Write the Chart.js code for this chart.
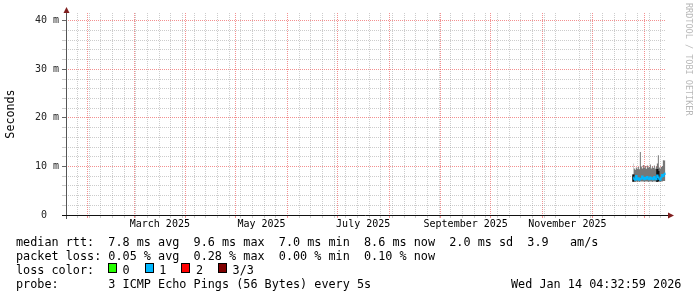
<!DOCTYPE html>
<html><head><meta charset="utf-8">
<script src="https://cdn.jsdelivr.net/npm/chart.js@4.4.1/dist/chart.umd.min.js"></script>
<style>
html,body{margin:0;padding:0;background:#fff;}
#wrap{position:relative;width:697px;height:297px;overflow:hidden;background:#fff;}
canvas{position:absolute;left:0;top:0;}
.t{position:absolute;font-family:"DejaVu Sans Mono",monospace;font-size:11.8px;line-height:14px;white-space:pre;color:#000;}
.box{position:absolute;width:7px;height:8px;border:1px solid #000;}
.wm{position:absolute;left:684px;top:3px;font-family:"DejaVu Sans Mono",monospace;font-size:8.5px;line-height:9px;color:#b8b8b8;writing-mode:vertical-rl;white-space:pre;}
</style></head>
<body><div id="wrap"><canvas id="c" width="697" height="297"></canvas>
<div class="wm">RRDTOOL / TOBI OETIKER</div>
<div id="foot"></div>
</div>
<script>
// sample times: days since 2025-01-01 00:00 UTC
const sampleDays = [358.6, 359.2, 359.8, 360.4, 361.0, 361.6, 362.2, 362.8, 363.4, 364.0, 364.6,
  365.2, 365.8, 366.4, 367.0, 367.6, 368.2, 368.8, 369.4, 370.0, 370.6, 371.2, 371.8, 372.4,
  373.0, 373.6, 374.2, 374.8, 375.4, 376.0, 376.6, 377.2, 377.8];
// smoke (min..max of pings), ms
const smokeMin = [7.0, 6.9, 6.8, 6.9, 6.8, 6.9, 6.8, 6.9, 6.9, 6.9, 6.9, 6.8, 6.9, 6.9, 6.9, 6.8,
  6.9, 6.9, 6.9, 6.8, 6.9, 6.9, 6.9, 6.8, 6.9, 7.0, 6.9, 6.8, 6.9, 6.9, 7.0, 7.0, 7.0];
const smokeMax = [10.6, 9.6, 9.3, 9.8, 9.5, 9.9, 9.4, 13.0, 10.0, 9.6, 10.3, 9.7, 10.1, 9.5, 10.2, 9.8,
  9.9, 10.4, 9.6, 10.0, 9.7, 10.2, 9.5, 10.0, 10.6, 12.3, 9.8, 9.6, 9.9, 10.1, 11.3, 11.2, 11.3];
// median rtt, ms
const medianRtt = [7.8, 7.4, 7.2, 8.1, 7.3, 7.6, 7.2, 7.5, 7.4, 8.0, 7.6, 7.3, 7.7, 7.4, 7.9, 7.5,
  7.3, 7.8, 7.4, 7.6, 7.3, 7.9, 7.5, 7.3, 8.2, 7.8, 7.4, 7.2, 7.7, 8.3, 8.0, 8.4, 8.6];
// lost pings per sample (colour of the median line)
const lossCount = [1, 1, 1, 1, 1, 1, 1, 1, 1, 1, 1, 1, 1, 1, 1, 1, 1, 1, 1, 1, 1, 1, 1, 1, 1, 1, 1, 1, 1, 1, 1, 1, 1];
// dense dark smoke samples
const darkIdx = [0, 24, 25];
const darkLow = [6.9, 6.9, 7.0];
const darkHigh = [8.3, 9.4, 9.0];

const yTickValues = [0, 2, 4, 6, 8, 10, 12, 14, 16, 18, 20, 22, 24, 26, 28, 30, 32, 34, 36, 38, 40];
const monthLabels = ['March 2025', 'May 2025', 'July 2025', 'September 2025', 'November 2025'];
const lossLabels = ['0', '1', '2', '3/3'];
const lossColors = ['#26ff00', '#00b8ff', '#ff0000', '#800000'];
const rttStats = ['7.8', '9.6', '7.0', '8.6', '2.0', '3.9'];
const lossStats = ['0.05', '0.28', '0.00', '0.10'];
const probeText = '3 ICMP Echo Pings (56 Bytes) every 5s';
const stampText = 'Wed Jan 14 04:32:59 2026';

// time helpers
const DAY = 864e5, EPOCH = Date.UTC(2025, 0, 1);
const toDay = t => Math.round((t - EPOCH) / DAY * 1e6) / 1e6;
const rangeEnd = toDay(Date.UTC(2026, 0, 14, 4, 32, 59));
const rangeStart = rangeEnd - 360;
const monthNames = ['January','February','March','April','May','June','July','August','September','October','November','December'];

const tickKind = {};
for (let d = toDay(Date.UTC(2025, 0, 5)); d < rangeEnd; d += 7) if (d > rangeStart) tickKind[d] = {kind: 'week', text: ''};
for (let m = 0; m < 14; m++) { const d = toDay(Date.UTC(2025, m, 1)); if (d > rangeStart && d < rangeEnd) tickKind[d] = {kind: 'month', text: ''}; }
monthLabels.forEach(lbl => {
  const [name, yr] = lbl.split(' ');
  const m = monthNames.indexOf(name), y = +yr;
  const mid = (toDay(Date.UTC(y, m, 1)) + toDay(Date.UTC(y, m + 1, 1))) / 2;
  tickKind[mid] = {kind: 'label', text: lbl};
});
const xTicks = Object.keys(tickKind).map(Number).sort((a, b) => a - b)
  .map(v => ({value: v, kind: tickKind[v].kind, text: tickKind[v].text}));

const GRID = 'rgba(143,143,143,0.45)', MAJOR = 'rgba(235,70,70,0.6)', NONE = 'rgba(0,0,0,0)';
const xColor = c => { const k = c.tick ? c.tick.kind : null; return k === 'month' ? MAJOR : k === 'week' ? GRID : NONE; };

const axesPlugin = {
  id: 'rrdAxes',
  afterDraw(chart) {
    const {ctx, chartArea: a} = chart;
    ctx.save();
    ctx.lineWidth = 1;
    ctx.strokeStyle = '#555';
    ctx.beginPath(); ctx.moveTo(a.left + 0.5, a.bottom + 4); ctx.lineTo(a.left + 0.5, a.top - 3); ctx.stroke();
    ctx.strokeStyle = '#111';
    ctx.beginPath(); ctx.moveTo(a.left - 4, a.bottom + 0.5); ctx.lineTo(a.right + 3, a.bottom + 0.5); ctx.stroke();
    ctx.fillStyle = '#801f1f';
    ctx.beginPath(); ctx.moveTo(a.left + 0.5, a.top - 6); ctx.lineTo(a.left + 3.5, a.top); ctx.lineTo(a.left - 2.5, a.top); ctx.closePath(); ctx.fill();
    ctx.beginPath(); ctx.moveTo(a.right + 8, a.bottom + 0.5); ctx.lineTo(a.right + 2, a.bottom - 2.5); ctx.lineTo(a.right + 2, a.bottom + 3.5); ctx.closePath(); ctx.fill();
    ctx.restore();
  }
};

const pts = arr => sampleDays.map((d, i) => ({x: d, y: arr[i]}));

new Chart(document.getElementById('c'), {
  type: 'line',
  data: {
    datasets: [
      {label: 'min', data: pts(smokeMin), borderWidth: 0, pointRadius: 0, fill: false, stepped: 'middle', order: 3},
      {label: 'smoke', data: pts(smokeMax), borderWidth: 0, pointRadius: 0, fill: '-1', stepped: 'middle',
       backgroundColor: '#777777', order: 2},
      {type: 'bar', label: 'dense', data: darkIdx.map((k, j) => ({x: sampleDays[k], y: [darkLow[j], darkHigh[j]]})),
       backgroundColor: '#111111', barThickness: 1.6, grouped: false, order: 1},
      {label: 'median rtt', data: pts(medianRtt), borderWidth: 1.5, pointRadius: 0, stepped: 'middle', fill: false,
       borderColor: lossColors[1],
       segment: {borderColor: c => lossColors[lossCount[c.p0DataIndex]]}, order: 0}
    ]
  },
  options: {
    responsive: false, animation: false, devicePixelRatio: 1,
    layout: {padding: {left: 0, right: 31, top: 13, bottom: 62}},
    plugins: {legend: {display: false}, tooltip: {enabled: false}},
    scales: {
      x: {
        type: 'linear', min: rangeStart, max: rangeEnd, offset: false,
        afterBuildTicks: s => { s.ticks = xTicks.map(t => ({value: t.value, kind: t.kind, text: t.text})); },
        afterFit: s => { s.height = 20; },
        grid: {offset: false, color: xColor, tickColor: xColor, lineWidth: 1, tickLength: 3, drawTicks: true},
        border: {display: false, dash: [1, 1]},
        ticks: {
          autoSkip: false, maxRotation: 0, minRotation: 0, padding: 0, color: '#000',
          font: {family: 'DejaVu Sans Mono', size: 10},
          callback: (v, i) => xTicks[i] ? xTicks[i].text : ''
        }
      },
      y: {
        type: 'linear', min: 0, max: 41.6,
        afterBuildTicks: s => { s.ticks = yTickValues.map(v => ({value: v})); },
        afterFit: s => { s.width = 66; },
        grid: {
          offset: false,
          color: c => (c.tick && c.tick.value % 10 === 0 && c.tick.value > 0) ? MAJOR : GRID,
          tickColor: c => (c.tick && c.tick.value % 10 === 0) ? '#666' : GRID,
          lineWidth: 1, tickLength: 4
        },
        border: {display: false, dash: [1, 1]},
        title: {display: true, text: 'Seconds', color: '#000', padding: {top: 4, bottom: 0},
                font: {family: 'DejaVu Sans Mono', size: 11.7}},
        ticks: {
          autoSkip: false, padding: 3, color: '#222', font: {family: 'DejaVu Sans Mono', size: 10},
          callback: v => v % 10 !== 0 ? '' : (v === 0 ? '0  ' : v + ' m')
        }
      }
    }
  },
  plugins: [axesPlugin]
});

// footer legend (text)
const foot = document.getElementById('foot');
const addText = (txt, left, top) => { const d = document.createElement('div'); d.className = 't'; d.style.left = left + 'px'; d.style.top = top + 'px'; d.textContent = txt; foot.appendChild(d); };
addText(`median rtt:  ${rttStats[0]} ms avg  ${rttStats[1]} ms max  ${rttStats[2]} ms min  ${rttStats[3]} ms now  ${rttStats[4]} ms sd  ${rttStats[5]}   am/s`, 16, 235);
addText(`packet loss: ${lossStats[0]} % avg  ${lossStats[1]} % max  ${lossStats[2]} % min  ${lossStats[3]} % now`, 16, 249);
addText('loss color:', 16, 263);
lossLabels.forEach((l, k) => {
  const bx = 108 + k * 36.7;
  const b = document.createElement('div'); b.className = 'box';
  b.style.left = bx + 'px'; b.style.top = '263px'; b.style.background = lossColors[k];
  foot.appendChild(b);
  addText(l, bx + 14.5, 263);
});
addText('probe:       ' + probeText, 16, 277);
addText(stampText, 511, 277);
</script>
</body></html>
